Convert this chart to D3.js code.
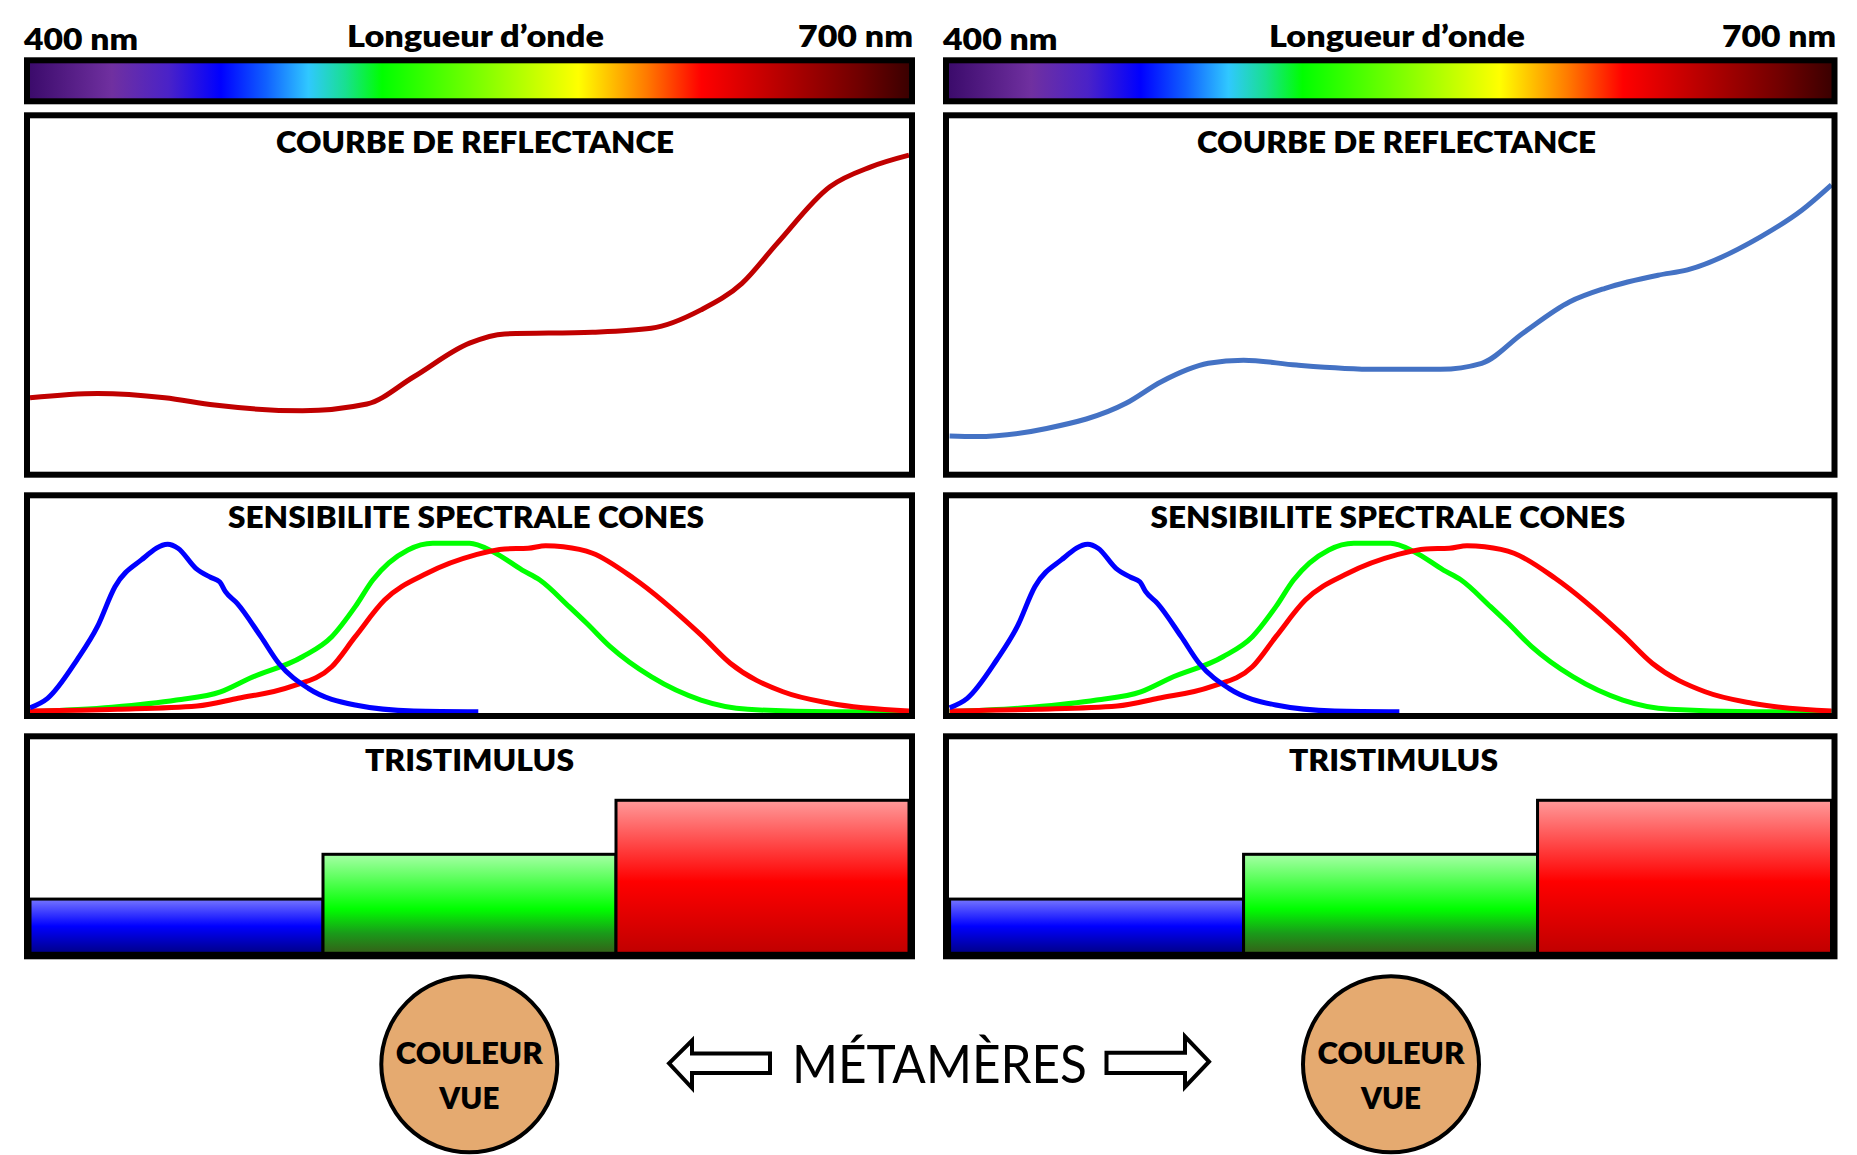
<!DOCTYPE html>
<html><head><meta charset="utf-8">
<script src="https://cdn.jsdelivr.net/npm/d3@7"></script>
<style>html,body{margin:0;padding:0;background:#fff;overflow:hidden}</style>
</head><body>
<svg id="chart" width="1857" height="1155" xmlns="http://www.w3.org/2000/svg"></svg>
<script>
// ---------------- DATA ----------------
const wlDomain = [400, 700];
const axisLabels = ["400 nm", "Longueur d’onde", "700 nm"];
const panelTitles = ["COURBE DE REFLECTANCE", "SENSIBILITE SPECTRALE CONES", "TRISTIMULUS"];

// Reflectance curve, left object (%)
const reflWlA = [400, 423, 446, 463, 493, 515, 531, 550, 562, 592, 612, 629, 643, 655, 673, 687, 700];
const reflA   = [21, 22.2, 21, 18.9, 17.3, 19.2, 26.9, 36.4, 39, 39.5, 40.6, 45.8, 53.3, 64.6, 80.6, 86.2, 89.5];
// Reflectance curve, right object (%)
const reflWlB = [400, 409, 433, 460, 472, 488, 500, 518, 545, 567, 581, 595, 611, 623, 641, 651, 676, 690, 700];
const reflB   = [10.2, 10.0, 12.3, 19.4, 25.5, 30.7, 31.6, 30.2, 29, 29, 30.7, 39.2, 48.1, 51.9, 55.6, 57.1, 66.5, 74, 81.1];

// Cone spectral sensitivities (relative, %)
const coneWlS = [400, 406, 416, 423, 429, 438, 447, 450.5, 456.6, 461.6, 464.7, 466.7, 470.7, 478.8, 484.9, 495, 511, 531, 553];
const coneS   = [2.3, 7.8, 30.1, 49.5, 72.8, 88.4, 97.5, 95.2, 83.5, 78.3, 75.7, 69.9, 63.1, 43.7, 28.2, 13.6, 3.9, 0.4, 0];
const coneWlM = [400, 428, 450, 465, 475, 493, 503, 511, 517, 529, 537.5, 550, 558, 568, 574, 584, 590, 598, 612, 629, 645, 673, 700];
const coneM   = [0, 2.6, 6.8, 11.6, 19.5, 32, 43.7, 61.2, 76.7, 94.2, 98.1, 98.1, 93.2, 82.5, 76.7, 61.2, 51.5, 37.9, 20.4, 6.8, 1.4, 0, 0];
const coneWlL = [400, 430, 457, 471, 489, 503, 511, 521, 535.5, 552, 562, 570, 576, 582, 592, 606, 629, 639, 657, 673, 700];
const coneL   = [0.4, 1.4, 3.3, 7.8, 14.6, 26.2, 43.7, 65, 80.6, 91.3, 94.8, 95.2, 96.7, 96.1, 92.3, 77.7, 44.7, 28.2, 11.6, 4.9, 0.4];

// Tristimulus values (%)
const triCats = ["S", "M", "L"];
const triVals = [25.3, 46.2, 71.4];

const circleText = ["COULEUR", "VUE"];
const centerText = "MÉTAMÈRES";

// ---------------- STYLE / LAYOUT ----------------
const svg = d3.select("#chart");
const defs = svg.append("defs");
const FONT = "Lato, 'Open Sans', 'DejaVu Sans', sans-serif";
const BOLD = 800;

// spectrum gradient
const spec = defs.append("linearGradient").attr("id", "spec").attr("x1", "0").attr("x2", "1").attr("y1", "0").attr("y2", "0");
[[0, "#3a0a6a"], [0.096, "#7030a0"], [0.16, "#4a22c8"], [0.219, "#0000ff"], [0.27, "#1060ff"], [0.318, "#30c8ff"],
 [0.36, "#18e090"], [0.401, "#00ff00"], [0.5, "#70ff00"], [0.623, "#ffff00"], [0.70, "#ff7a00"], [0.762, "#ff0000"],
 [0.86, "#b00000"], [0.94, "#700000"], [1, "#380000"]]
  .forEach(([o, c]) => spec.append("stop").attr("offset", o).attr("stop-color", c));

const barGrads = {
  S: [[0, "#7676ff"], [0.5, "#0000ff"], [1, "#000088"]],
  M: [[0, "#a6ffa6"], [0.55, "#00ff00"], [0.8, "#1a9a1a"], [1, "#356018"]],
  L: [[0, "#ff9a9a"], [0.53, "#ff0000"], [1, "#c00000"]]
};
Object.entries(barGrads).forEach(([k, stops]) => {
  const g = defs.append("linearGradient").attr("id", "bar" + k).attr("x1", "0").attr("x2", "0").attr("y1", "0").attr("y2", "1");
  stops.forEach(([o, c]) => g.append("stop").attr("offset", o).attr("stop-color", c));
});

const coneColors = { S: "#0000ff", M: "#00ff00", L: "#ff0000" };

const cols = [
  { x0: 24, x1: 915, ix0: 30, ix1: 909, reflWl: reflWlA, refl: reflA, reflColor: "#c00000",
    lbl: [[24, 114, 50], [347, 257, 47.3], [798, 115, 47.3]],
    ttl: [[276, 398], [228, 476], [365, 209]] },
  { x0: 943, x1: 1837.5, ix0: 949.6, ix1: 1831.5, reflWl: reflWlB, refl: reflB, reflColor: "#4472c4",
    lbl: [[943, 114.5, 50], [1269, 256, 47.3], [1722, 114, 47.3]],
    ttl: [[1197, 399], [1150.6, 474.5], [1289, 209]] }
];
const rows = {
  spec: { y0: 57.3, y1: 104.3 },
  refl: { y0: 112.3, y1: 477.7, py: [472, 118], tb: 153.3 },
  cone: { y0: 492.3, y1: 719, py: [711.7, 540], tb: 528.3 },
  tri:  { y0: 733.3, y1: 959.3, py: [953.3, 739], tb: 771 }
};
const FW = 6;

function txt(g, x, y, s, w, size, weight, anchor) {
  g.append("text").attr("x", x).attr("y", y).text(s)
    .attr("font-family", FONT).attr("font-size", size).attr("font-weight", weight)
    .attr("text-anchor", anchor || "start")
    .attr("textLength", w).attr("lengthAdjust", "spacingAndGlyphs").attr("fill", "#000");
}
function frame(g, c, r) {
  g.append("rect").attr("x", c.x0 + FW / 2).attr("y", r.y0 + FW / 2)
    .attr("width", c.x1 - c.x0 - FW).attr("height", r.y1 - r.y0 - FW)
    .attr("fill", "none").attr("stroke", "#000").attr("stroke-width", FW);
}

cols.forEach(c => {
  const g = svg.append("g");
  axisLabels.forEach((s, i) => txt(g, c.lbl[i][0], c.lbl[i][2], s, c.lbl[i][1], 31, BOLD));

  const r = rows.spec;
  g.append("rect").attr("x", c.x0 + FW / 2).attr("y", r.y0 + FW / 2)
    .attr("width", c.x1 - c.x0 - FW).attr("height", r.y1 - r.y0 - FW).attr("fill", "url(#spec)");
  frame(g, c, r);

  const x = d3.scaleLinear().domain(wlDomain).range([c.ix0, c.ix1]);

  {
    const rr = rows.refl;
    const y = d3.scaleLinear().domain([0, 100]).range(rr.py);
    const line = d3.line().x(d => x(d[0])).y(d => y(d[1])).curve(d3.curveMonotoneX);
    g.append("path").datum(d3.zip(c.reflWl, c.refl)).attr("d", line)
      .attr("fill", "none").attr("stroke", c.reflColor).attr("stroke-width", 5);
    frame(g, c, rr);
    txt(g, c.ttl[0][0], rr.tb, panelTitles[0], c.ttl[0][1], 31, BOLD);
  }

  {
    const rr = rows.cone;
    const y = d3.scaleLinear().domain([0, 100]).range(rr.py);
    const line = d3.line().x(d => x(d[0])).y(d => y(d[1])).curve(d3.curveMonotoneX);
    [["M", coneWlM, coneM], ["L", coneWlL, coneL], ["S", coneWlS, coneS]].forEach(([k, wl, v]) => {
      g.append("path").datum(d3.zip(wl, v)).attr("d", line)
        .attr("fill", "none").attr("stroke", coneColors[k]).attr("stroke-width", 5).attr("stroke-linejoin", "round");
    });
    frame(g, c, rr);
    txt(g, c.ttl[1][0], rr.tb, panelTitles[1], c.ttl[1][1], 31, BOLD);
  }

  {
    const rr = rows.tri;
    const y = d3.scaleLinear().domain([0, 100]).range(rr.py);
    const xb = d3.scaleBand().domain(triCats).range([c.ix0, c.ix1]).padding(0);
    g.selectAll(null).data(triCats.map((k, i) => ({ k, v: triVals[i] }))).join("rect")
      .attr("x", d => xb(d.k)).attr("width", xb.bandwidth())
      .attr("y", d => y(d.v)).attr("height", d => y(0) - y(d.v))
      .attr("fill", d => `url(#bar${d.k})`).attr("stroke", "#000").attr("stroke-width", 3);
    frame(g, c, rr);
    txt(g, c.ttl[2][0], rr.tb, panelTitles[2], c.ttl[2][1], 31, BOLD);
  }
});

[469.3, 1391].forEach(cx => {
  const g = svg.append("g");
  g.append("circle").attr("cx", cx).attr("cy", 1064.3).attr("r", 88)
    .attr("fill", "#e5aa70").attr("stroke", "#000").attr("stroke-width", 4);
  txt(g, cx, 1064.3, circleText[0], 147, 31, BOLD, "middle");
  txt(g, cx, 1109, circleText[1], 60, 31, BOLD, "middle");
});

const arrows = [
  [[669, 1063.3], [692, 1040.5], [692, 1053.5], [770, 1053.5], [770, 1073], [692, 1073], [692, 1088]],
  [[1209, 1061.7], [1185, 1036.5], [1185, 1052.7], [1106.5, 1052.7], [1106.5, 1073], [1185, 1073], [1185, 1087]]
];
arrows.forEach(pts => {
  svg.append("path").attr("d", d3.line()(pts) + "Z")
    .attr("fill", "#fff").attr("stroke", "#000").attr("stroke-width", 4).attr("stroke-linejoin", "miter");
});
txt(svg, 792, 1082.7, centerText, 295, 52, 400);
</script>
</body></html>
